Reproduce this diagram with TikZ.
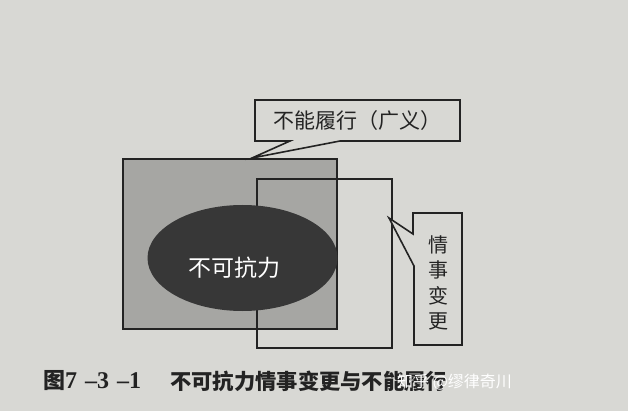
\documentclass[tikz,border=0pt]{standalone}
\usepackage{fontspec}
\newfontfamily\cjk{Noto Sans CJK SC}
\newfontfamily\numfont{Liberation Serif}
\definecolor{page}{RGB}{216,216,212}
\definecolor{midgray}{RGB}{166,166,163}
\definecolor{darkfill}{RGB}{55,55,55}
\definecolor{ink}{RGB}{35,35,35}
\tikzset{
  outline/.style={draw=ink, line width=1.6pt, line join=miter},
  calloutbox/.style={outline, fill=page},
  label/.style={text=ink, inner sep=0pt, font=\cjk\fontsize{21}{24}\selectfont},
}
\begin{document}
\begin{tikzpicture}[x=1pt,y=-1pt]
\fill[page] (0,0) rectangle (628,411);
\useasboundingbox (0,0) rectangle (628,411);
% big gray rectangle (broad non-performance)
\draw[outline, fill=midgray] (123,159) rectangle (337,329);
% change-of-circumstances rectangle
\draw[outline] (257,179) rectangle (392,348);
% force majeure ellipse
\fill[darkfill] (242.5,258) ellipse [x radius=95, y radius=53];
\node[label, text=white, font=\cjk\fontsize{23}{26}\selectfont] (fm) at (234,268) {不可抗力};
% callout 1
\draw[calloutbox] (255,100) -- (460,100) -- (460,141) -- (340,141) -- (252,158) -- (290,141) -- (255,141) -- cycle;
\node[label] (nl) at (357.5,121) {不能履行（广义）};
% callout 2
\draw[calloutbox] (413,213) -- (462,213) -- (462,345) -- (414,345) -- (414,266) -- (389,218) -- (413,234) -- cycle;
\node[label, align=center, font=\cjk\fontsize{20}{25.5}\selectfont] (cc) at (438,283) {情\\事\\变\\更};
% caption
\node[inner sep=0pt, anchor=west, text=ink] (capnum) at (43,381)
  {{\cjk\bfseries\fontsize{22}{24}\selectfont 图}{\numfont\bfseries\fontsize{24}{26}\selectfont 7\hspace{8pt}–3\hspace{8pt}–1}};
\node[inner sep=0pt, anchor=west, text=ink, font=\cjk\bfseries\fontsize{21.3}{24}\selectfont] (captext) at (170,381) {不可抗力情事变更与不能履行};
% watermark
\node[inner sep=0pt, anchor=west, text=white, font=\cjk\fontsize{16}{18}\selectfont] (wm) at (397,382) {知乎 @缪律奇川};
\end{tikzpicture}
\end{document}
